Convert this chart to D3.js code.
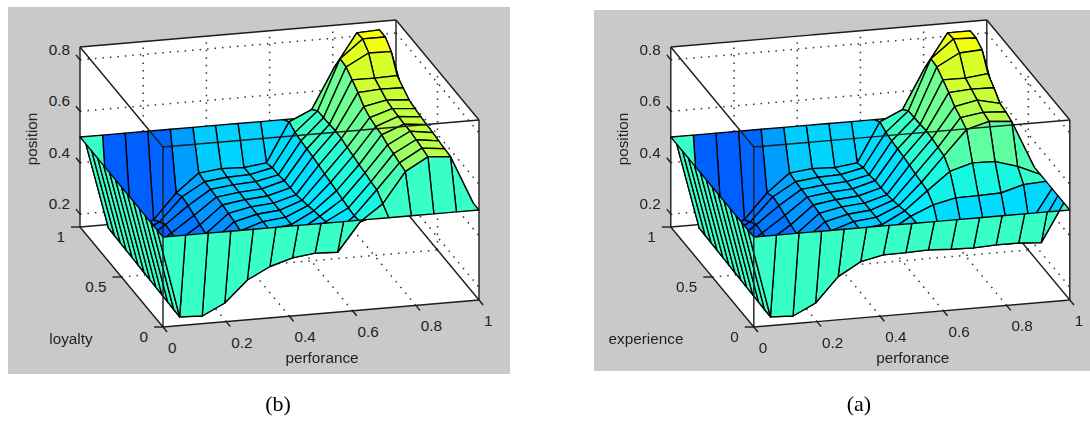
<!DOCTYPE html>
<html>
<head>
<meta charset="utf-8">
<script src="https://cdnjs.cloudflare.com/ajax/libs/d3/7.8.5/d3.min.js"></script>
<style>
  html, body { margin: 0; padding: 0; background: #fff; }
  svg { display: block; filter: blur(0.55px); }
  text { font-family: "Liberation Sans", Arial, sans-serif; font-size: 15.3px; fill: #222; }
  .caption { font-family: "Liberation Serif", "Times New Roman", serif; font-size: 22px; fill: #000; }
</style>
</head>
<body>
<script>
// grid the surface was evaluated on: 15 x 15 points
var gridX = d3.range(15).map(i => i / 14)
var gridY = d3.range(15).map(j => j / 14)

var xTicks = [0, 0.2, 0.4, 0.6, 0.8, 1]
var yTicks = [0, 0.5, 1]
var zTicks = [0.2, 0.4, 0.6, 0.8]

// rows are y = 0 .. 1, columns are x = 0 .. 1
var zLoyalty = [
  [.5,.5,.5,.5,.5,.5,.5,.5,.5,.5,.5,.5,.5,.5,.5],
  [.5,.154,.15,.193,.275,.32,.346,.357,.353,.464,.526,.644,.694,.687,.5],
  [.5,.155,.15,.195,.268,.32,.346,.357,.39,.459,.553,.65,.70,.69,.5],
  [.5,.156,.151,.197,.262,.32,.346,.357,.416,.462,.556,.658,.705,.693,.5],
  [.5,.157,.152,.198,.258,.32,.346,.357,.409,.468,.563,.664,.71,.697,.5],
  [.5,.158,.153,.20,.256,.32,.347,.357,.403,.473,.567,.676,.71,.70,.5],
  [.5,.159,.154,.20,.256,.32,.348,.357,.395,.478,.574,.68,.712,.703,.5],
  [.5,.16,.155,.20,.258,.327,.349,.357,.388,.483,.579,.687,.715,.707,.5],
  [.5,.161,.156,.205,.26,.332,.35,.357,.382,.489,.585,.702,.72,.714,.5],
  [.5,.162,.157,.21,.267,.337,.35,.357,.381,.494,.588,.729,.735,.733,.5],
  [.5,.163,.158,.215,.276,.34,.351,.357,.381,.497,.585,.751,.75,.752,.5],
  [.5,.164,.158,.22,.286,.342,.352,.357,.376,.50,.583,.773,.82,.818,.5],
  [.5,.165,.159,.203,.293,.344,.354,.357,.376,.506,.582,.777,.847,.847,.5],
  [.5,.166,.16,.183,.28,.35,.36,.356,.367,.519,.559,.715,.843,.847,.5],
  [.5,.5,.5,.5,.5,.5,.5,.5,.5,.5,.5,.5,.5,.5,.5]
]
var zExperience = [
  [.5,.5,.5,.5,.5,.5,.5,.5,.5,.5,.5,.5,.5,.5,.5],
  [.5,.154,.15,.193,.288,.339,.358,.359,.362,.357,.355,.359,.359,.353,.5],
  [.5,.155,.15,.195,.27,.33,.35,.358,.375,.36,.36,.36,.36,.355,.5],
  [.5,.156,.151,.197,.262,.325,.348,.357,.41,.375,.375,.375,.375,.37,.5],
  [.5,.157,.152,.198,.258,.32,.346,.357,.409,.446,.466,.467,.47,.495,.5],
  [.5,.158,.153,.20,.256,.32,.347,.357,.403,.473,.541,.567,.564,.538,.5],
  [.5,.159,.154,.20,.256,.32,.348,.357,.395,.478,.574,.668,.693,.685,.5],
  [.5,.16,.155,.20,.258,.327,.349,.357,.388,.483,.579,.687,.70,.695,.5],
  [.5,.161,.156,.205,.26,.332,.35,.357,.382,.489,.585,.702,.72,.70,.5],
  [.5,.162,.157,.21,.267,.337,.35,.357,.381,.494,.588,.729,.735,.733,.5],
  [.5,.163,.158,.215,.276,.34,.351,.357,.381,.497,.585,.751,.75,.76,.5],
  [.5,.164,.158,.22,.286,.342,.352,.357,.376,.50,.583,.773,.82,.825,.5],
  [.5,.165,.159,.203,.293,.344,.354,.357,.376,.506,.582,.777,.847,.843,.5],
  [.5,.166,.16,.183,.28,.35,.36,.356,.367,.519,.559,.715,.843,.843,.5],
  [.5,.5,.5,.5,.5,.5,.5,.5,.5,.5,.5,.5,.5,.5,.5]
]

var zMin = 0.15, zMax = 0.85

var svg = d3.select("body").append("svg")
  .attr("width", 1090)
  .attr("height", 421)

// oblique view of the box, one scale for each screen direction
var xToLeft = d3.scaleLinear().domain([0, 1]).range([0, 316])
var xToTop = d3.scaleLinear().domain([0, 1]).range([0, -27])
var yToLeft = d3.scaleLinear().domain([0, 1]).range([0, -83])
var yToTop = d3.scaleLinear().domain([0, 1]).range([0, -100])
var zToTop = d3.scaleLinear().domain([zMin, zMax]).range([0, -180])

var color = d3.scaleLinear()
  .domain([0.15, 0.18, 0.28, 0.32, 0.36, 0.40, 0.47, 0.5, 0.56, 0.6, 0.69, 0.75, 0.85])
  .range(["#005cff", "#0064ff", "#009cff", "#00b4ff", "#00d4ff", "#00e8ff", "#18f8e0", "#38ffc8",
          "#5cffa4", "#78ff88", "#b8ff48", "#d8ff28", "#ffff00"])

function drawPanel(panel) {
  var g = svg.append("g")

  g.append("rect")
    .attr("x", panel.bg[0]).attr("y", panel.bg[1])
    .attr("width", panel.bg[2]).attr("height", panel.bg[3])
    .attr("fill", "#c9c9c9")

  function pt(x, y, z) {
    return [panel.left + xToLeft(x) + yToLeft(y), panel.bottom + xToTop(x) + yToTop(y) + zToTop(z)]
  }
  function line(parent, a, b, width) {
    parent.append("line")
      .attr("x1", a[0]).attr("y1", a[1]).attr("x2", b[0]).attr("y2", b[1])
      .attr("stroke", "#1c1c1c").attr("stroke-width", width || 1.4)
  }
  function dots(a, b) {
    g.append("line")
      .attr("x1", a[0]).attr("y1", a[1]).attr("x2", b[0]).attr("y2", b[1])
      .attr("stroke", "#333").attr("stroke-width", 1.5)
      .attr("stroke-dasharray", "1.5 6")
  }

  // white walls behind the surface
  g.append("polygon")
    .attr("fill", "#fff")
    .attr("points", [pt(0,1,zMin), pt(0,1,zMax), pt(1,1,zMax), pt(1,0,zMax), pt(1,0,zMin), pt(0,0,zMin)].join(" "))

  // dotted grid on floor and back walls
  xTicks.slice(1, -1).forEach(x => {
    dots(pt(x,0,zMin), pt(x,1,zMin))
    dots(pt(x,1,zMin), pt(x,1,zMax))
  })
  yTicks.slice(1, -1).forEach(y => {
    dots(pt(0,y,zMin), pt(1,y,zMin))
    dots(pt(1,y,zMin), pt(1,y,zMax))
  })
  zTicks.forEach(z => {
    dots(pt(0,1,z), pt(1,1,z))
    dots(pt(1,1,z), pt(1,0,z))
  })

  // back edges of the box
  line(g, pt(0,1,zMin), pt(0,1,zMax))
  line(g, pt(1,1,zMin), pt(1,1,zMax))
  line(g, pt(0,1,zMax), pt(1,1,zMax))
  line(g, pt(0,1,zMin), pt(1,1,zMin))
  line(g, pt(0,0,zMin), pt(0,1,zMin))
  line(g, pt(0,0,zMin), pt(1,0,zMin))
  line(g, pt(1,0,zMin), pt(1,1,zMin))

  // surface, far cells first. a cell takes the colour of its low x, low y corner
  var cells = []
  d3.range(13, -1, -1).forEach(j => {
    d3.range(13, -1, -1).forEach(i => {
      cells.push({ i: i, j: j })
    })
  })
  g.selectAll("polygon.cell")
    .data(cells)
    .enter()
    .append("polygon")
    .attr("class", "cell")
    .attr("fill", d => color(panel.z[d.j][d.i]))
    .attr("stroke", "#000")
    .attr("stroke-width", 1.35)
    .attr("stroke-linejoin", "round")
    .attr("points", d => [
      pt(gridX[d.i], gridY[d.j], panel.z[d.j][d.i]),
      pt(gridX[d.i + 1], gridY[d.j], panel.z[d.j][d.i + 1]),
      pt(gridX[d.i + 1], gridY[d.j + 1], panel.z[d.j + 1][d.i + 1]),
      pt(gridX[d.i], gridY[d.j + 1], panel.z[d.j + 1][d.i])
    ].join(" "))

  // front edges of the box go over the surface
  line(g, pt(0,0,zMax), pt(1,0,zMax))
  line(g, pt(0,1,zMax), pt(0,0,zMax))
  line(g, pt(1,0,zMax), pt(1,1,zMax))
  line(g, pt(0,0,zMin), pt(0,0,zMax))
  line(g, pt(1,0,zMin), pt(1,0,zMax))

  // ticks and labels
  xTicks.forEach(x => {
    var p = pt(x,0,zMin)
    line(g, p, pt(x,-0.05,zMin))
    g.append("text").attr("x", p[0] + 5).attr("y", p[1] + 26).text(x)
  })
  yTicks.forEach(y => {
    var p = pt(0,y,zMin)
    line(g, p, [p[0] - 9, p[1]])
    g.append("text").attr("x", p[0] - 15).attr("y", p[1] + 15).attr("text-anchor", "end").text(y)
  })
  zTicks.forEach(z => {
    var p = pt(0,1,z)
    line(g, p, [p[0] - 4, p[1] - 5])
    g.append("text").attr("x", p[0] - 10).attr("y", p[1] - 5).attr("text-anchor", "end").text(z)
  })

  var labelLeft = panel.left - 163
  g.append("text")
    .attr("transform", "translate(" + (labelLeft + 37) + ",139) rotate(-90)")
    .attr("text-anchor", "middle")
    .text("position")
  g.append("text")
    .attr("x", labelLeft + 322).attr("y", 363)
    .attr("text-anchor", "middle")
    .text("perforance")
  g.append("text")
    .attr("x", panel.yLabelX).attr("y", 344)
    .attr("text-anchor", "middle")
    .text(panel.yLabel)
  g.append("text")
    .attr("class", "caption")
    .attr("x", panel.captionX).attr("y", 411)
    .attr("text-anchor", "middle")
    .text(panel.caption)
}

drawPanel({ z: zLoyalty, left: 163, bottom: 327, bg: [8, 7, 502, 367], yLabel: "loyalty", yLabelX: 71, caption: "(b)", captionX: 278 })
drawPanel({ z: zExperience, left: 753.8, bottom: 327, bg: [594, 10, 496, 361], yLabel: "experience", yLabelX: 646, caption: "(a)", captionX: 859 })
</script>
</body>
</html>
